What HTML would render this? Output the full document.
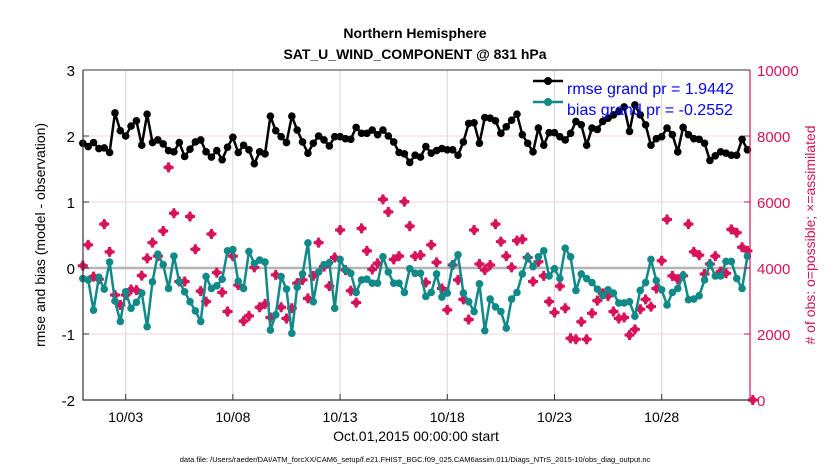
<!DOCTYPE html>
<html><head><meta charset="utf-8"><style>
body{margin:0;background:#fff;}
svg{display:block;font-family:"Liberation Sans",sans-serif;}
</style></head><body>
<svg id="chart" width="830" height="470" viewBox="0 0 830 470" xmlns="http://www.w3.org/2000/svg">
<text x="415" y="38" text-anchor="middle" font-size="14" font-weight="bold">Northern Hemisphere</text>
<text x="415" y="59" text-anchor="middle" font-size="14" font-weight="bold">SAT_U_WIND_COMPONENT @ 831 hPa</text>
<g id="grid"></g>
<g id="marks"></g>
<g id="axes"></g>
<text transform="translate(45,235) rotate(-90)" text-anchor="middle" font-size="14">rmse and bias (model - observation)</text>
<text transform="translate(815,235) rotate(-90)" text-anchor="middle" font-size="14" fill="#d4145a"># of obs: o=possible; ×=assimilated</text>
<text x="416" y="441" text-anchor="middle" font-size="14">Oct.01,2015 00:00:00 start</text>
<text x="415" y="462" text-anchor="middle" font-size="7.5">data file: /Users/raeder/DAI/ATM_forcXX/CAM6_setup/f.e21.FHIST_BGC.f09_025.CAM6assim.011/Diags_NTrS_2015-10/obs_diag_output.nc</text>
<g>
<line x1="533" y1="81" x2="563" y2="81" stroke="#000" stroke-width="2.5"/><circle cx="548" cy="81" r="4" fill="#000"/>
<text x="567" y="94" font-size="16" fill="#0000ff">rmse grand pr = 1.9442</text>
<line x1="533" y1="102" x2="563" y2="102" stroke="#0f8a88" stroke-width="2.5"/><circle cx="548" cy="102" r="4" fill="#0f8a88"/>
<text x="567" y="115" font-size="16" fill="#0000ff">bias grand pr = -0.2552</text>
</g>
</svg>
<script>
const xTickDays=[2,7,12,17,22,27];
const xTickLabels=["10/03","10/08","10/13","10/18","10/23","10/28"];
const yTicks=[-2,-1,0,1,2,3];
const y2Ticks=[0,2000,4000,6000,8000,10000];
const rmse=[1.89,1.84,1.90,1.81,1.82,1.75,2.35,2.08,2.0,2.15,2.23,1.86,2.33,1.90,1.94,1.88,1.78,1.76,1.90,1.69,1.80,1.91,1.94,1.76,1.68,1.78,1.64,1.83,1.98,1.75,1.86,1.79,
1.58,1.76,1.73,2.30,2.08,1.99,1.90,2.30,2.09,1.91,1.74,1.89,2.0,1.94,1.85,1.99,1.99,1.96,1.95,2.13,2.04,2.04,2.09,2.02,2.09,2.0,1.91,1.75,1.73,1.60,1.71,
1.68,1.84,1.74,1.78,1.81,1.79,1.79,1.71,1.91,2.19,2.20,1.89,2.28,2.27,2.23,2.04,2.14,2.24,2.33,2.02,1.89,1.76,2.12,1.86,2.05,2.05,1.99,1.94,2.04,2.22,2.17,
1.86,2.12,2.10,2.22,2.27,2.32,2.37,2.44,2.07,2.47,2.32,2.17,1.86,1.96,1.99,2.12,2.02,1.76,2.13,2.02,1.96,1.95,1.89,1.63,1.70,1.76,1.74,1.71,1.71,1.95,1.79];
const bias=[-0.16,-0.18,-0.64,-0.14,-0.32,0.09,-0.50,-0.81,-0.36,-0.61,-0.52,-0.38,-0.89,-0.21,0.21,0.05,-0.31,0.18,-0.21,-0.36,-0.51,-0.65,-0.81,-0.13,-0.31,-0.27,-0.17,0.26,0.28,-0.20,-0.31,0.25,
0.07,0.12,0.09,-0.94,-0.71,-0.13,-0.32,-0.99,-0.29,-0.09,0.38,-0.51,-0.06,0.05,0.08,-0.61,0.13,-0.03,-0.08,-0.37,-0.18,-0.17,-0.23,-0.23,0.17,-0.06,-0.23,-0.23,-0.37,-0.01,-0.08,
-0.08,-0.43,-0.37,-0.09,-0.44,-0.38,0.05,0.20,-0.38,-0.51,-0.66,-0.24,-0.95,-0.47,-0.59,-0.66,-0.91,-0.47,-0.37,-0.09,0.16,0.02,0.17,0.26,-0.12,-0.01,-0.16,0.30,0.17,-0.34,-0.09,
-0.16,-0.22,-0.32,-0.42,-0.33,-0.38,-0.53,-0.53,-0.51,-0.73,-0.34,-0.22,0.13,-0.19,-0.33,-0.56,-0.37,-0.31,-0.11,-0.48,-0.47,-0.42,-0.18,0.06,-0.12,-0.12,0.10,0.10,-0.16,-0.31,0.18];
const nobs=[4070,4700,3740,3660,5330,4490,3180,2880,3180,3350,3330,3770,4290,4770,4360,5120,7050,5660,3590,3590,5560,4570,3300,2980,5030,3860,3260,2680,4360,3480,2390,2550,
4020,2810,2910,2500,3790,2810,2470,2780,3540,3640,3080,3760,4770,4040,3450,4320,5150,3940,3310,2950,5200,4520,3960,4140,6080,5700,4260,4360,6010,5270,4360,
4390,3560,4700,4170,3380,2730,4090,3640,3050,2440,5150,4120,3940,4090,5330,4800,4360,4020,4830,4870,4320,3590,4190,3760,2980,2650,3450,2780,1870,1840,2370,
1840,2630,3010,3230,3150,2680,2470,2500,1970,2140,2750,3050,2830,3380,4220,5470,3760,3660,3760,5330,4490,4390,3820,4120,4360,3890,3840,5170,5070,4630,4520,0];
const NS="http://www.w3.org/2000/svg";
const L=83,R=750,T=70,B=400;
const x=t=>82.8+21.44*t;
const y=v=>268-66*v;
const y2=c=>B-(c/10000)*(B-T);
function mk(tag,attrs,parent){const e=document.createElementNS(NS,tag);for(const k in attrs)e.setAttribute(k,attrs[k]);parent.appendChild(e);return e;}
const grid=document.getElementById('grid'),axes=document.getElementById('axes'),marks=document.getElementById('marks');
y2Ticks.forEach(c=>{if(c>0&&c<10000){const g=mk('line',{x1:L,x2:R,y1:y2(c),y2:y2(c),stroke:'#f2d4dd','stroke-width':1},grid);

}});
xTickDays.forEach((d,i)=>{const g=mk('line',{x1:x(d),x2:x(d),y1:T,y2:B,stroke:'#d8d8d8','stroke-width':1},grid);


const tk=mk('line',{x1:x(d),x2:x(d),y1:B,y2:B-6,stroke:'#333'},axes);


const tt=mk('text',{x:x(d),y:B+22,'text-anchor':'middle','font-size':14},axes);tt.textContent=xTickLabels[i];

});
const zl=mk('line',{x1:L,x2:R,y1:y(0),y2:y(0),stroke:'#b4b4b4','stroke-width':2.5},grid);


yTicks.forEach(v=>{const tk=mk('line',{x1:L,x2:L+6,y1:y(v),y2:y(v),stroke:'#333'},axes);


const tt=mk('text',{x:L-8,y:y(v)+6,'text-anchor':'end','font-size':15},axes);tt.textContent=v;

});
y2Ticks.forEach(c=>{const tk=mk('line',{x1:R-6,x2:R,y1:y2(c),y2:y2(c),stroke:'#d4145a'},axes);


const tt=mk('text',{x:R+7,y:y2(c)+6,'font-size':15,fill:'#d4145a'},axes);tt.textContent=c;

});
const ax=mk('path',{d:`M${L},${T}V${B}H${R}`,fill:'none',stroke:'#333','stroke-width':1.2},axes);


const ar=mk('line',{x1:R,x2:R,y1:T,y2:B,stroke:'#d4145a','stroke-width':1.2},axes);


const topBorder=mk('line',{x1:L,x2:R,y1:T,y2:T,stroke:'#333','stroke-width':1},axes);


nobs.forEach((c,i)=>{const cx=x(i*0.25),cy=y2(c);
const g=mk('g',{},marks);


mk('path',{d:`M${cx-5},${cy}H${cx+5}M${cx},${cy-5}V${cy+5}`,stroke:'#d8125a','stroke-width':3},g);
mk('circle',{cx:cx,cy:cy,r:3.5,fill:'#d8125a'},g);});
function series(vals,color,name){
const pts=vals.map((v,i)=>[x(i*0.25),y(v)]);
const p=mk('polyline',{points:pts.map(q=>q.join(',')).join(' '),fill:'none',stroke:color,'stroke-width':2.5},marks);


pts.forEach(q=>{const c=mk('circle',{cx:q[0],cy:q[1],r:3.8,fill:color},marks);

});}
series(rmse,'#000000','rmse');
series(bias,'#0f8a88','bias');
</script>
</body></html>
